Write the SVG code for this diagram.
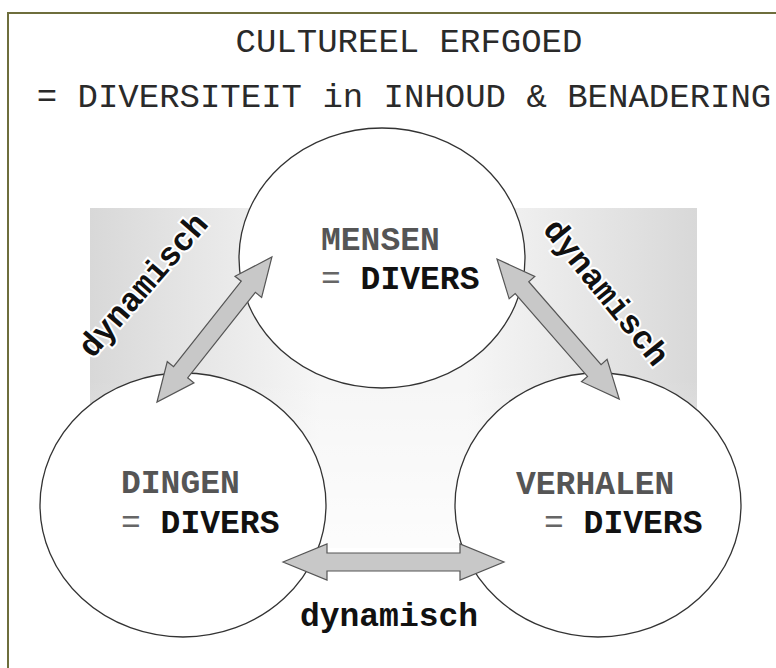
<svg xmlns="http://www.w3.org/2000/svg" width="776" height="668" viewBox="0 0 776 668">
<defs>
<linearGradient id="bg" x1="90" y1="0" x2="697" y2="0" gradientUnits="userSpaceOnUse">
<stop offset="0" stop-color="#d8d8d8"/>
<stop offset="0.38" stop-color="#f6f6f6"/>
<stop offset="0.62" stop-color="#f6f6f6"/>
<stop offset="1" stop-color="#d8d8d8"/>
</linearGradient>
<linearGradient id="fade" x1="0" y1="380" x2="0" y2="545" gradientUnits="userSpaceOnUse">
<stop offset="0" stop-color="#ffffff" stop-opacity="0"/>
<stop offset="1" stop-color="#ffffff" stop-opacity="0.7"/>
</linearGradient>
<style>
.frame{fill:#ffffff;stroke:#6e6e3c;stroke-width:2}
.circle{fill:#ffffff;stroke:#333333;stroke-width:1.3}
.arrow{fill:#c8c8c8;stroke:#555555;stroke-width:1.2;stroke-linejoin:miter}
.title{font-family:"Courier New","Liberation Mono",monospace;font-size:34px;fill:#2a2a2a}
.name{font-family:"Courier New","Liberation Mono",monospace;font-size:33px;font-weight:bold;fill:#555555}
.eq{font-family:"Courier New","Liberation Mono",monospace;font-size:33px;fill:#666666}
.div{font-weight:bold;fill:#111111}
.dyn{font-family:"Courier New","Liberation Mono",monospace;font-size:33px;font-weight:bold;fill:#111111;stroke:#ffffff;stroke-width:4;paint-order:stroke;text-anchor:middle}
</style>
</defs>
<rect class="frame" x="8" y="13" width="800" height="700"/>
<rect x="90" y="208" width="607" height="340" fill="url(#bg)"/>
<rect x="90" y="380" width="607" height="168" fill="url(#fade)"/>
<g id="titles">
<text class="title" x="409" y="52" text-anchor="middle">CULTUREEL ERFGOED</text>
<text class="title" x="404" y="107" text-anchor="middle">= DIVERSITEIT in INHOUD &amp; BENADERING</text>
</g>
<g id="node-mensen">
<ellipse class="circle" cx="382" cy="258" rx="143" ry="130"/>
<text class="name" x="321" y="250">MENSEN</text>
<text class="eq" x="321" y="289">= <tspan class="div">DIVERS</tspan></text>
</g>
<g id="node-dingen">
<ellipse class="circle" cx="183" cy="505" rx="143" ry="132"/>
<text class="name" x="121" y="493">DINGEN</text>
<text class="eq" x="121" y="533">= <tspan class="div">DIVERS</tspan></text>
</g>
<g id="node-verhalen">
<ellipse class="circle" cx="598" cy="505" rx="143" ry="132"/>
<text class="name" x="516" y="494">VERHALEN</text>
<text class="eq" x="544" y="533">= <tspan class="div">DIVERS</tspan></text>
</g>
<g id="connectors">
<path class="arrow" transform="translate(157,402) rotate(-51.6)" d="M0,0 L38,-17 L38,-9 L147,-9 L147,-17 L185,0 L147,17 L147,9 L38,9 L38,17 Z"/>
<path class="arrow" transform="translate(497,259) rotate(48.9)" d="M0,0 L38,-17 L38,-9 L148,-9 L148,-17 L186,0 L148,17 L148,9 L38,9 L38,17 Z"/>
<path class="arrow" transform="translate(283,562)" d="M0,0 L44,-18 L44,-9 L177,-9 L177,-18 L221,0 L177,18 L177,9 L44,9 L44,18 Z"/>
</g>
<g id="labels">
<text class="dyn" transform="translate(151,292) rotate(-49)">dynamisch</text>
<text class="dyn" transform="translate(598,299) rotate(51)">dynamisch</text>
<text class="dyn" x="389" y="626">dynamisch</text>
</g>
</svg>
